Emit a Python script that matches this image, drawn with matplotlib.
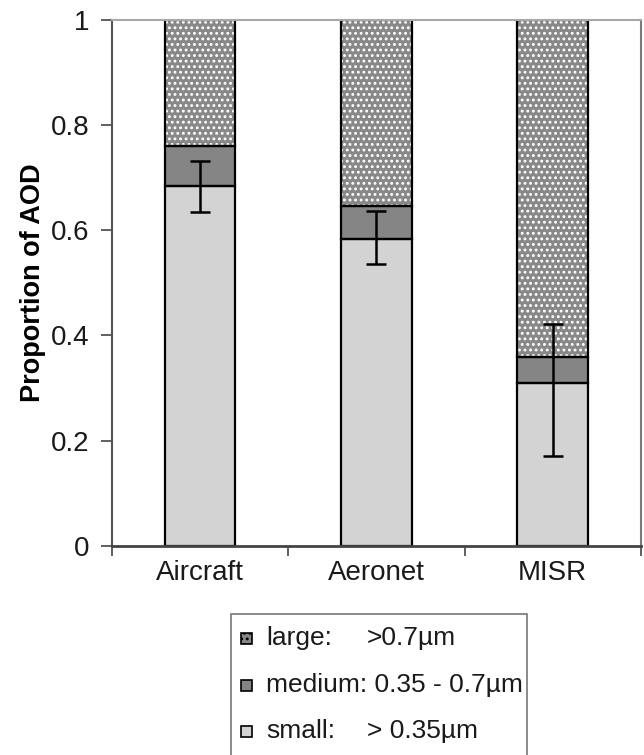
"""
Stacked proportion of AOD by particle size for three sources.
"""
import matplotlib
matplotlib.use('Agg')
import matplotlib.pyplot as plt
from matplotlib.patches import Rectangle
from matplotlib.ticker import FormatStrFormatter

plt.rcParams['font.family'] = ['Liberation Sans', 'DejaVu Sans']
plt.rcParams['hatch.linewidth'] = 1.3

# Data.
sources = ['Aircraft', 'Aeronet', 'MISR']
small = [0.684, 0.584, 0.310]
medium = [0.075, 0.061, 0.049]
large = [0.241, 0.355, 0.641]
err_lo = [0.635, 0.536, 0.171]
err_hi = [0.732, 0.636, 0.422]

layer_names = ['large:', 'medium:', 'small:']
layer_ranges = ['>0.7\u00b5m', '0.35 - 0.7\u00b5m', '> 0.35\u00b5m']


def main():
    fig = plt.figure(figsize=(6.44, 7.55), dpi=100)
    ax = fig.add_axes([0.174, 0.277, 0.821, 0.697])

    xs = list(range(len(sources)))
    width = 0.4
    bottom_med = small
    bottom_large = [s + m for s, m in zip(small, medium)]

    # Fills.
    ax.bar(xs, small, width, color='#d3d3d3', linewidth=0, zorder=1)
    ax.bar(xs, medium, width, bottom=bottom_med, color='#858585',
           linewidth=0, zorder=1)
    ax.bar(xs, large, width, bottom=bottom_large, color='#888888',
           edgecolor='white', hatch='...', linewidth=0, zorder=1)

    # Black outlines on top of the fills.
    for vals, bots in ((small, None), (medium, bottom_med),
                       (large, bottom_large)):
        ax.bar(xs, vals, width, bottom=bots, fill=False,
               edgecolor='black', linewidth=1.6, zorder=2)

    # Error bars about the top of the small fraction.
    yerr = [[s - lo for s, lo in zip(small, err_lo)],
            [hi - s for s, hi in zip(small, err_hi)]]
    ax.errorbar(xs, small, yerr=yerr, fmt='none', ecolor='black',
                elinewidth=1.8, capsize=7.5, capthick=1.8, zorder=3)

    ax.set_xlim(-0.5, len(sources) - 0.5)
    ax.set_ylim(0, 1)
    ax.set_yticks([0, 0.2, 0.4, 0.6, 0.8, 1.0])
    ax.yaxis.set_major_formatter(FormatStrFormatter('%g'))
    ax.set_xticks(xs)
    ax.set_xticklabels(sources)
    ax.set_xticks([x - 0.5 for x in xs] + [len(sources) - 0.5], minor=True)
    ax.tick_params(axis='x', which='major', length=0, pad=10, labelsize=20,
                   colors='#1a1a1a')
    ax.tick_params(axis='x', which='minor', length=7, width=1.2,
                   direction='out', color='#444444')
    ax.tick_params(axis='y', length=8, width=1.2, direction='out', pad=8,
                   labelsize=20, color='#444444', labelcolor='#1a1a1a')
    ax.set_ylabel('Proportion of AOD', fontsize=19.5, fontweight='bold',
                  labelpad=4)

    ax.spines['top'].set_color('#a8a8a8')
    ax.spines['right'].set_color('#7a7a7a')
    ax.spines['left'].set_color('#555555')
    ax.spines['bottom'].set_color('#444444')
    for side in ('top', 'right', 'left'):
        ax.spines[side].set_linewidth(1.5)
    ax.spines['bottom'].set_linewidth(2)

    # Legend drawn by hand so the range column lines up.
    W, H = 644.0, 755.0
    fig.patches.append(Rectangle((231 / W, 1 - 780 / H), 296 / W, 166 / H,
                                 transform=fig.transFigure, fill=False,
                                 edgecolor='#777777', linewidth=1.2))
    swatches = [dict(facecolor='#888888', hatch='...'),
                dict(facecolor='#858585'),
                dict(facecolor='#d3d3d3')]
    rows_y = [638, 685, 731]
    for sw, name, rng, yp in zip(swatches, layer_names, layer_ranges, rows_y):
        fy = 1 - yp / H
        fig.patches.append(Rectangle((241 / W, fy - 5.5 / H), 11 / W, 11 / H,
                                     transform=fig.transFigure,
                                     edgecolor='black', linewidth=1.2, **sw))
        if name == 'medium:':
            fig.text(266 / W, fy, name + ' ' + rng, fontsize=19,
                     va='center', ha='left', color='#1a1a1a')
        else:
            fig.text(266 / W, fy, name, fontsize=19, va='center', ha='left',
                     color='#1a1a1a')
            fig.text(367 / W, fy, rng, fontsize=19, va='center', ha='left',
                     color='#1a1a1a')

    fig.savefig('out.png', dpi=100, facecolor='white')


if __name__ == '__main__':
    main()
